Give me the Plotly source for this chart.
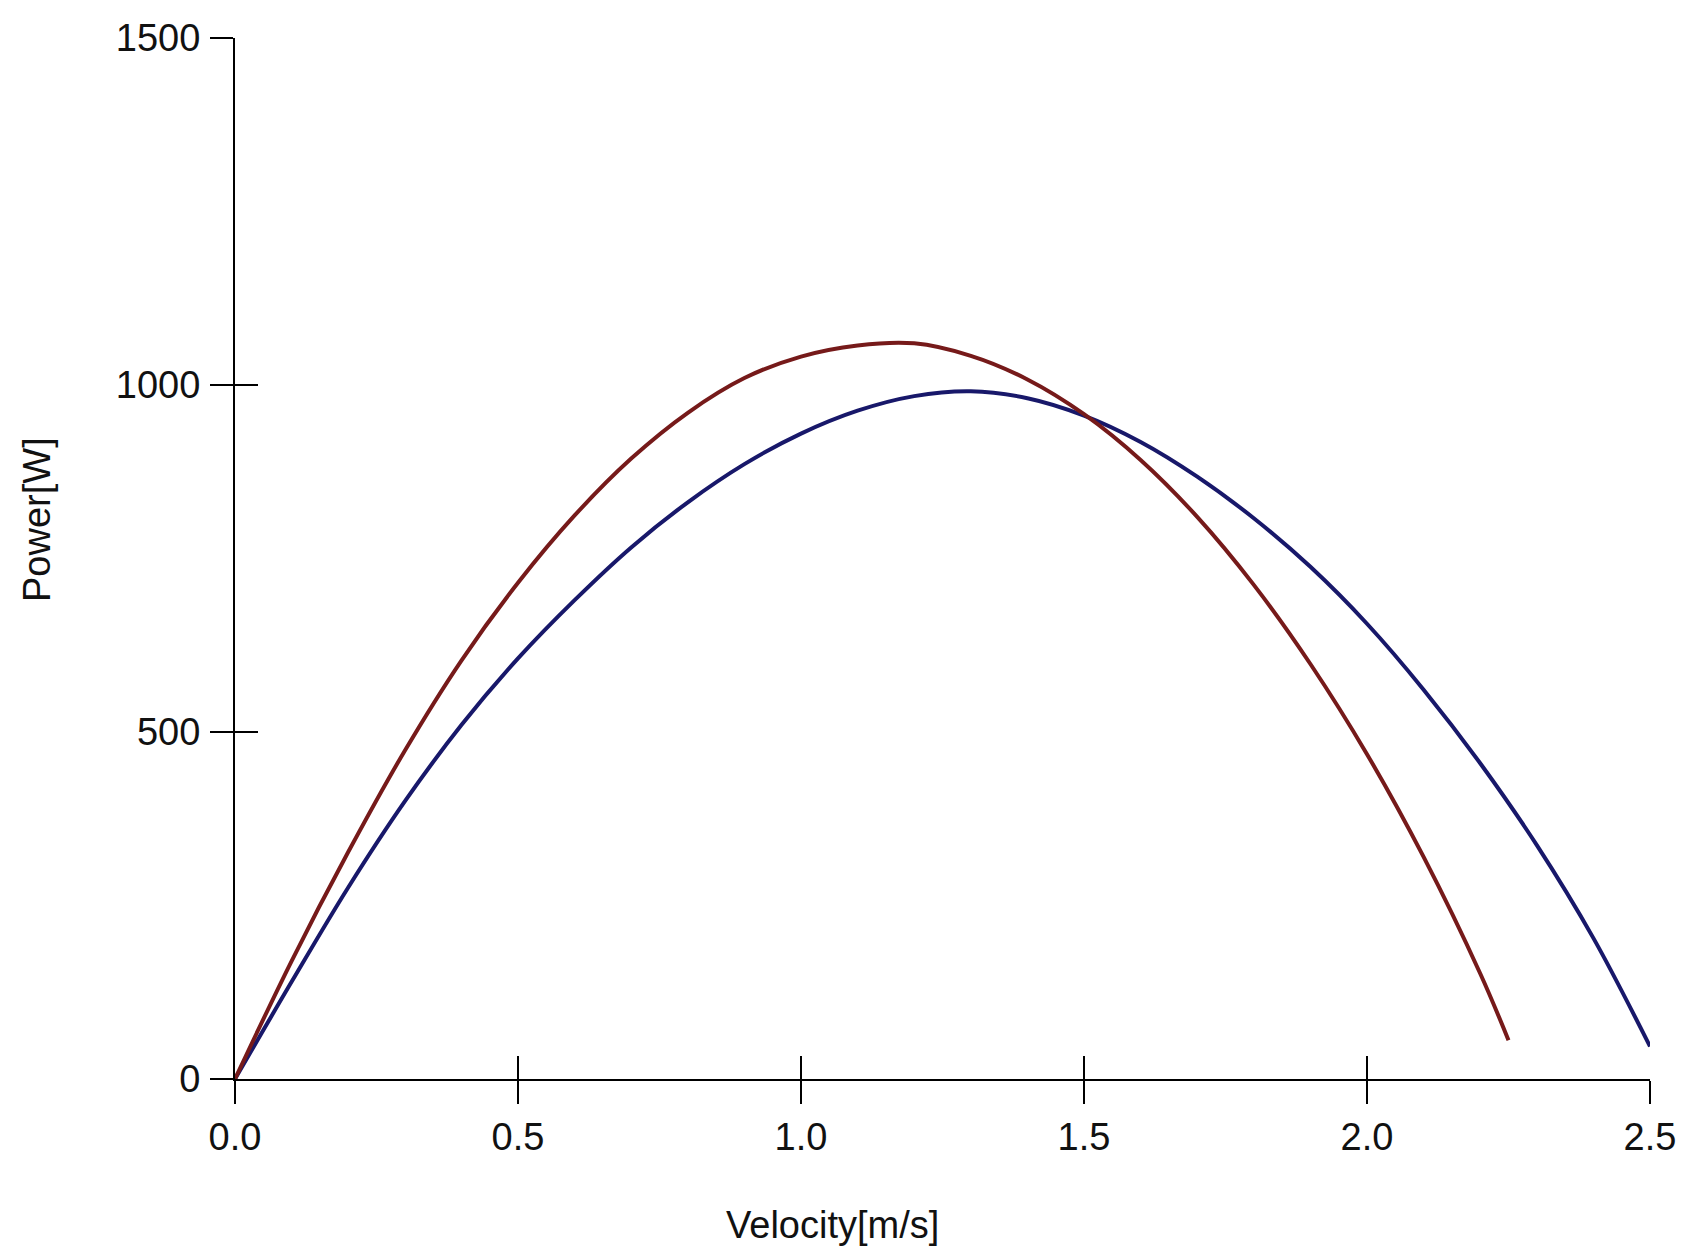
import plotly.graph_objects as go

# Power vs. velocity curves
red_velocity = [0.0, 0.1, 0.2, 0.3, 0.4, 0.5, 0.6, 0.7, 0.8, 0.9, 1.0, 1.1, 1.2,
                1.3, 1.4, 1.5, 1.6, 1.7, 1.8, 1.9, 2.0, 2.1, 2.2, 2.25]
red_power = [0, 170, 327, 473, 603, 715, 812, 894, 960, 1010, 1041, 1057, 1060,
             1042, 1008, 958, 892, 810, 712, 598, 468, 320, 152, 56]

blue_velocity = [0.0, 0.1, 0.2, 0.3, 0.4, 0.5, 0.6, 0.7, 0.8, 0.9, 1.0, 1.1, 1.2,
                 1.3, 1.4, 1.5, 1.6, 1.7, 1.8, 1.9, 2.0, 2.1, 2.2, 2.3, 2.4, 2.5]
blue_power = [0, 140, 276, 400, 510, 606, 690, 766, 831, 886, 930, 963, 984,
              991, 981, 956, 918, 868, 808, 738, 656, 561, 455, 337, 203, 47]

x_ticks = [0.0, 0.5, 1.0, 1.5, 2.0, 2.5]
x_tick_text = ["0.0", "0.5", "1.0", "1.5", "2.0", "2.5"]
y_ticks = [0, 500, 1000, 1500]
y_tick_text = ["0", "500", "1000", "1500"]

FONT = "Liberation Sans Narrow, Arial Narrow, Liberation Sans, Arial, sans-serif"
TICK_FONT = dict(family=FONT, size=38, color="#111111")

fig = go.Figure()
fig.add_trace(go.Scatter(x=blue_velocity, y=blue_power, mode="lines",
                         line=dict(color="#18186a", width=4, shape="spline"),
                         showlegend=False))
fig.add_trace(go.Scatter(x=red_velocity, y=red_power, mode="lines",
                         line=dict(color="#761a1a", width=4, shape="spline"),
                         showlegend=False))
# empty trace so the overlay axes (inner half of the crossing ticks) are drawn
fig.add_trace(go.Scatter(x=[], y=[], xaxis="x2", yaxis="y2", showlegend=False, hoverinfo="skip"))

axis_common = dict(showgrid=False, zeroline=False, linecolor="black", linewidth=2,
                   tickcolor="black", tickwidth=2, ticklen=23)

fig.update_layout(
    width=1688, height=1249,
    margin=dict(l=235, r=33, t=38, b=170),
    paper_bgcolor="white", plot_bgcolor="white",
    xaxis=dict(range=[0, 2.5], tickvals=x_ticks, ticktext=x_tick_text, ticks="outside",
               showline=True, tickfont=TICK_FONT, ticklabelstandoff=0, **axis_common),
    yaxis=dict(range=[0, 1500], tickvals=y_ticks, ticktext=y_tick_text, ticks="outside",
               showline=True, tickfont=TICK_FONT, ticklabelstandoff=2, **axis_common),
    xaxis2=dict(range=[0, 2.5], tickvals=x_ticks, ticks="inside", showticklabels=False,
                showline=False, overlaying="x", anchor="y", side="bottom", **axis_common),
    yaxis2=dict(range=[0, 1500], tickvals=y_ticks, ticks="inside", showticklabels=False,
                showline=False, overlaying="y", anchor="x", side="left", **axis_common),
    annotations=[
        dict(text="Velocity[m/s]", xref="paper", yref="paper", x=0.4225, y=0,
             yshift=-146, xanchor="center", yanchor="middle", showarrow=False,
             font=dict(family=FONT, size=38, color="#111111")),
        dict(text="Power[W]", xref="paper", yref="paper", x=0, y=0.537,
             xshift=-198, xanchor="center", yanchor="middle", showarrow=False, textangle=-90,
             font=dict(family=FONT, size=38, color="#111111")),
    ],
)

fig.write_html("out.html")
